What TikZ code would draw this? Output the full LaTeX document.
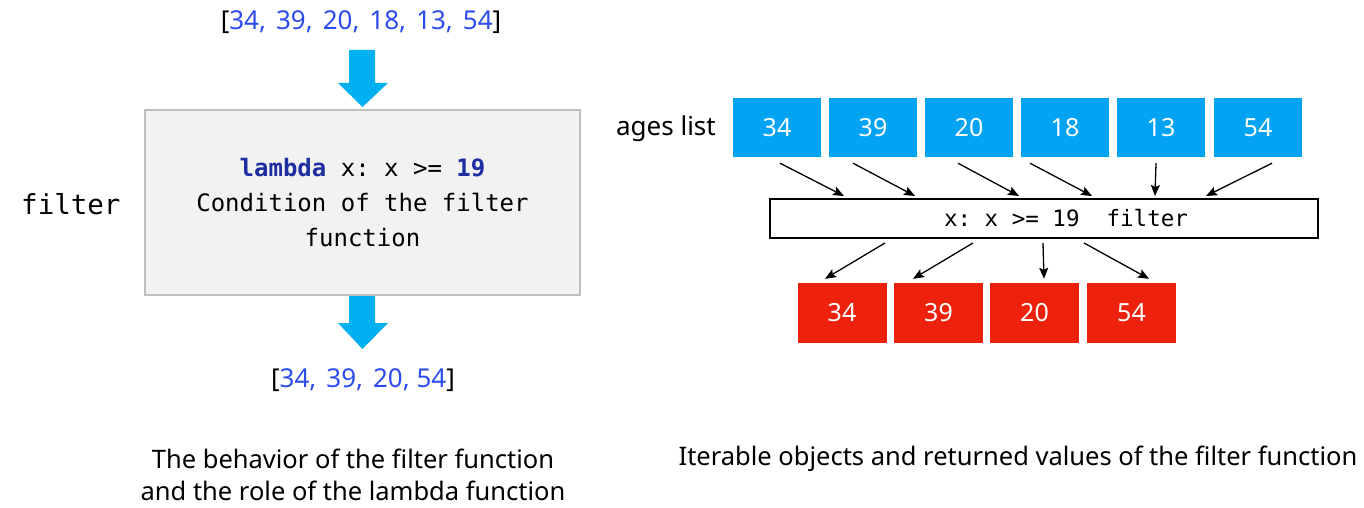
\documentclass[tikz,border=0pt]{standalone}
\usepackage{fontspec}
\setmainfont{Noto Sans}
\setmonofont{DejaVu Sans Mono}
\usetikzlibrary{calc,arrows.meta}
\definecolor{boxblue}{RGB}{3,163,244}
\definecolor{boxred}{RGB}{238,34,12}
\definecolor{arrblue}{RGB}{0,176,240}
\definecolor{numblue}{RGB}{43,76,238}
\definecolor{kwblue}{RGB}{30,45,160}
\definecolor{graybg}{RGB}{242,242,242}
\definecolor{grayline}{RGB}{191,191,191}
\newcommand{\lsp}{\hspace{10pt}}
\begin{document}
\begin{tikzpicture}[x=1pt,y=-1pt,
  cell/.style={minimum width=88pt,minimum height=59pt,inner sep=0pt,text=white,font=\fontsize{25}{30}\selectfont},
  bluecell/.style={cell,fill=boxblue},
  redcell/.style={cell,fill=boxred,minimum width=89pt,minimum height=60pt},
  con/.style={-{Stealth[length=11pt,width=9pt,inset=2pt]},line width=1.3pt},
  fat/.style={fill=arrblue,draw=none},
  listtxt/.style={font=\fontsize{26}{30}\selectfont,inner sep=0pt},
  caption/.style={font=\fontsize{25.5}{32}\selectfont,align=center,inner sep=0pt}]
\useasboundingbox (0,0) rectangle (1364,508);
% left part
\node[listtxt] (inlist) at (361,22) {[\textcolor{numblue}{34,\lsp39,\lsp20,\lsp18,\lsp13,\lsp54}]};
\fill[fat] (349,50) -- (375,50) -- (375,83) -- (388,83) -- (362.5,107) -- (338,83) -- (349,83) -- cycle;
\node[draw=grayline,line width=2pt,fill=graybg,minimum width=435pt,minimum height=185pt,inner sep=0pt,
  align=center,font=\ttfamily\fontsize{24}{35}\selectfont] (lam) at (362.5,202.5)
  {\textcolor{kwblue}{\bfseries lambda} x: x >= \textcolor{kwblue}{\bfseries 19}\\Condition of the filter\\function};
\node[font=\ttfamily\fontsize{27.5}{30}\selectfont,anchor=west,inner sep=0pt] (flab) at (21,204) {filter};
\fill[fat] (349,296) -- (375,296) -- (375,323) -- (388,323) -- (362.5,349) -- (338,323) -- (349,323) -- cycle;
\node[listtxt] (outlist) at (363,380) {[\textcolor{numblue}{34,\lsp39,\lsp20,\ 54}]};
\node[caption] (capl) at (353,475) {The behavior of the filter function\\and the role of the lambda function};
% right part
\node[font=\fontsize{26}{30}\selectfont,anchor=east,inner sep=0pt] (ages) at (716,129) {ages list};
\node[bluecell] (b1) at (777,127.5) {34};
\node[bluecell] (b2) at (873,127.5) {39};
\node[bluecell] (b3) at (969,127.5) {20};
\node[bluecell] (b4) at (1065,127.5) {18};
\node[bluecell] (b5) at (1161,127.5) {13};
\node[bluecell] (b6) at (1258,127.5) {54};
\node[draw=black,line width=2pt,minimum width=548pt,minimum height=39pt,inner sep=0pt,
  font=\ttfamily\fontsize{22.5}{26}\selectfont] (flt) at (1044,218.5) {\hspace*{44pt}x: x >= 19\ \ filter};
\node[redcell] (r1) at (842,313) {34};
\node[redcell] (r2) at (938.5,313) {39};
\node[redcell] (r3) at (1034.5,313) {20};
\node[redcell] (r4) at (1131.5,313) {54};
\draw[con] ($(b1.south)+(3,6)$) -- ($(flt.north west)+(75,-2)$);
\draw[con] ($(b2.south)+(-20,6)$) -- ($(flt.north west)+(146,-2)$);
\draw[con] ($(b3.south)+(-11,6)$) -- ($(flt.north west)+(250,-2)$);
\draw[con] ($(b4.south)+(-35,6)$) -- ($(flt.north west)+(323,-2)$);
\draw[con] ($(b5.south)+(-5,6)$) -- ($(flt.north west)+(386,-2)$);
\draw[con] ($(b6.south)+(14,6)$) -- ($(flt.north west)+(437,-2)$);
\draw[con] ($(flt.south west)+(116,4)$) -- ($(r1.north)+(-17,-4)$);
\draw[con] ($(flt.south west)+(204,4)$) -- ($(r2.north)+(-25.5,-4)$);
\draw[con] ($(flt.south west)+(274,4)$) -- ($(r3.north)+(9.5,-4)$);
\draw[con] ($(flt.south west)+(315,4)$) -- ($(r4.north)+(17.5,-4)$);
\node[caption] (capr) at (1018,459) {Iterable objects and returned values of the filter function};
\end{tikzpicture}
\end{document}
